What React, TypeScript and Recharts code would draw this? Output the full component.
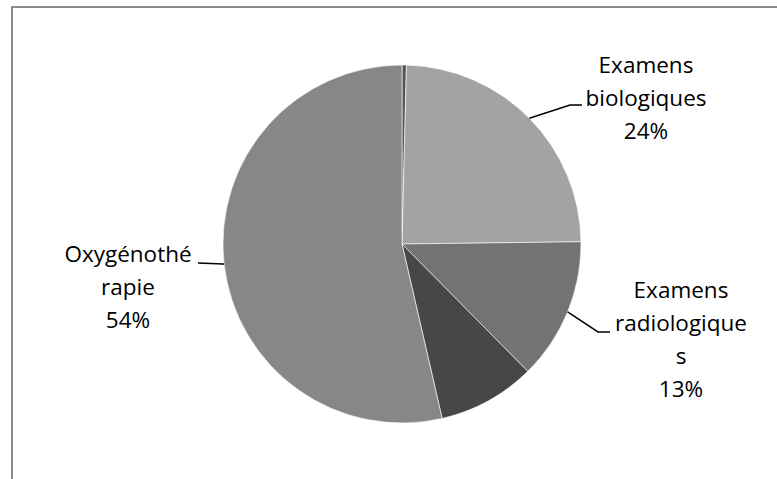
import { Pie, PieChart, Cell } from "recharts";

// slices clockwise from 12 o'clock (in %)
const categories = ["Autres", "Examens biologiques", "Examens radiologiques", "Divers", "Oxygénothérapie"];
const values = [0.4, 24.4, 12.8, 8.8, 53.6];
// how the visible labels are wrapped (empty = slice has no label)
const labelLines: string[][] = [[], ["Examens", "biologiques"], ["Examens", "radiologique", "s"], [], ["Oxygénothé", "rapie"]];
const colors = ["#565656", "#a3a3a3", "#737373", "#474747", "#878787"];

const data = categories.map((name, i) => ({ name, value: values[i] }));

// label placement: leader elbow, leader end, text centre x and first baseline
const layout: ({ elbow: [number, number]; end: [number, number]; x: number; y: number } | null)[] = [
  null,
  { elbow: [570, 105], end: [582, 105], x: 646, y: 73 },
  { elbow: [598, 332], end: [610, 332], x: 681, y: 298 },
  null,
  { elbow: [223, 264], end: [198, 263], x: 128, y: 262 },
];

const RAD = Math.PI / 180;
const LINE_H = 33;

function renderLabel(props: any) {
  const { cx, cy, midAngle, outerRadius, index, percent } = props;
  const pos = layout[index];
  if (!pos) return null;
  const sx = cx + outerRadius * Math.cos(-midAngle * RAD);
  const sy = cy + outerRadius * Math.sin(-midAngle * RAD);
  const lines = [...labelLines[index], `${Math.round(percent * 100)}%`];
  return (
    <g>
      <polyline
        points={`${sx},${sy} ${pos.elbow[0]},${pos.elbow[1]} ${pos.end[0]},${pos.end[1]}`}
        fill="none"
        stroke="#000"
        strokeWidth={1.5}
      />
      <text x={pos.x} y={pos.y} textAnchor="middle" fill="#000" fontSize={22.5} fontFamily="'Open Sans', sans-serif">
        {lines.map((t, i) => (
          <tspan key={i} x={pos.x} dy={i === 0 ? 0 : LINE_H}>
            {t}
          </tspan>
        ))}
      </text>
    </g>
  );
}

export default function App() {
  return (
    <div style={{ position: "absolute", left: 0, top: 0, width: 777, height: 479, background: "#fff", overflow: "hidden" }}>
      <div
        style={{
          position: "absolute",
          left: 11,
          top: 6,
          width: 800,
          height: 500,
          borderTop: "2px solid #8c8c8c",
          borderLeft: "2px solid #8c8c8c",
        }}
      />
      <PieChart width={777} height={479} margin={{ top: 0, right: 0, bottom: 0, left: 0 }}>
        <Pie
          data={data}
          dataKey="value"
          nameKey="name"
          cx={402}
          cy={244}
          outerRadius={179}
          startAngle={90}
          endAngle={-270}
          stroke="#ffffff"
          strokeWidth={0.6}
          label={renderLabel}
          labelLine={false}
          isAnimationActive={false}
        >
          {data.map((d, i) => (
            <Cell key={d.name} fill={colors[i]} />
          ))}
        </Pie>
      </PieChart>
    </div>
  );
}
